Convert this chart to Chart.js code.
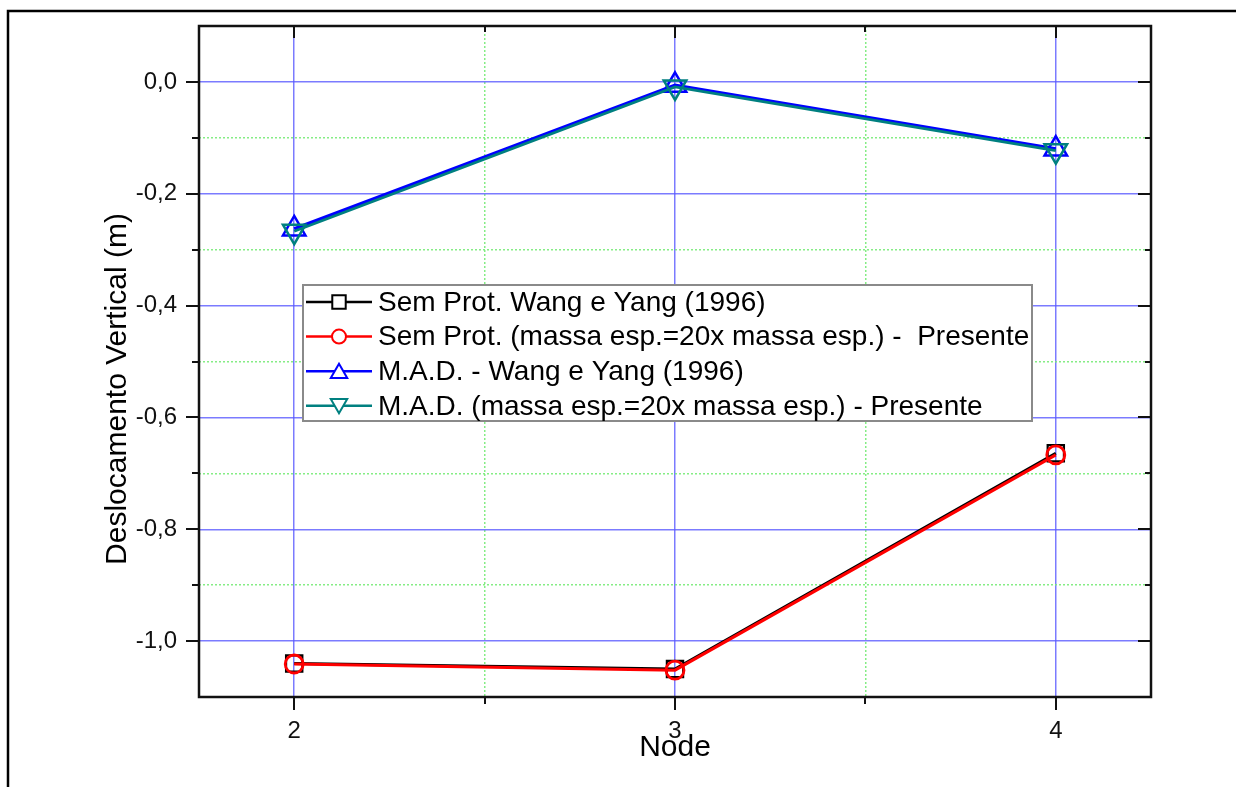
<!DOCTYPE html>
<html>
<head>
<meta charset="utf-8">
<script src="https://cdn.jsdelivr.net/npm/chart.js@4.4.1/dist/chart.umd.min.js"></script>
<style>
  html, body { margin: 0; padding: 0; background: #ffffff; }
  #wrap { position: relative; width: 1236px; height: 787px; overflow: hidden; }
  canvas { display: block; }
</style>
</head>
<body>
<div id="wrap"><canvas id="chart" width="1236" height="787"></canvas></div>
<script>
// Node positions along the structure
const nodes = [2, 3, 4];

// Vertical displacement (m) at each node
const semProtWangYang = [-1.040, -1.050, -0.664];
const semProtPresente = [-1.041, -1.052, -0.667];
const madWangYang     = [-0.263, -0.006, -0.120];
const madPresente     = [-0.267, -0.009, -0.123];

const seriesLabels = [
  'Sem Prot. Wang e Yang (1996)',
  'Sem Prot. (massa esp.=20x massa esp.) -  Presente',
  'M.A.D. - Wang e Yang (1996)',
  'M.A.D. (massa esp.=20x massa esp.) - Presente'
];

// Axis ticks: every value gets a grid line, labelled ones are the major ticks
const xTickValues = [2, 2.5, 3, 3.5, 4];
const xMajorValues = [2, 3, 4];
const xMajorLabels = ['2', '3', '4'];
const yTickValues = [-1.0, -0.9, -0.8, -0.7, -0.6, -0.5, -0.4, -0.3, -0.2, -0.1, 0.0];
const yMajorValues = [-1.0, -0.8, -0.6, -0.4, -0.2, 0.0];
const yMajorLabels = ['-1,0', '-0,8', '-0,6', '-0,4', '-0,2', '0,0'];

const X_MIN = 1.75, X_MAX = 4.25, Y_MIN = -1.1, Y_MAX = 0.1;

function majorIndex(list, v) {
  return list.findIndex(m => Math.abs(m - v) < 1e-6);
}

const MAJOR_GRID = 'rgba(90,90,255,0.8)';
const MINOR_GRID = 'rgba(120,235,120,0.9)';
const FONT = '"Liberation Sans", Arial, sans-serif';

function points(values) {
  return nodes.map((x, i) => ({ x: x, y: values[i] }));
}

function drawMarker(ctx, style, rotation, x, y, r) {
  ctx.beginPath();
  if (style === 'rect') {
    const s = r * Math.SQRT1_2;
    ctx.rect(x - s, y - s, 2 * s, 2 * s);
  } else if (style === 'circle') {
    ctx.arc(x, y, r, 0, Math.PI * 2);
  } else {
    let a = (rotation || 0) * Math.PI / 180;
    for (let k = 0; k < 3; k++) {
      const px = x + Math.sin(a) * r, py = y - Math.cos(a) * r;
      if (k === 0) ctx.moveTo(px, py); else ctx.lineTo(px, py);
      a += 2 * Math.PI / 3;
    }
    ctx.closePath();
  }
  ctx.fillStyle = '#ffffff';
  ctx.fill();
  ctx.stroke();
}

// White page, outer frame, axis box with Origin-style ticks
const framePlugin = {
  id: 'frame',
  beforeDraw(chart) {
    const ctx = chart.ctx;
    ctx.save();
    ctx.fillStyle = '#ffffff';
    ctx.fillRect(0, 0, chart.width, chart.height);
    ctx.restore();
  },
  afterDatasetsDraw(chart) {
    const ctx = chart.ctx;
    const a = chart.chartArea;
    const xs = chart.scales.x, ys = chart.scales.y;
    ctx.save();
    ctx.strokeStyle = '#111111';
    ctx.lineWidth = 2;
    xTickValues.forEach(v => {
      const px = Math.round(xs.getPixelForValue(v));
      const major = majorIndex(xMajorValues, v) >= 0;
      const outL = major ? 13 : 7, inL = major ? 12 : 6;
      ctx.beginPath();
      ctx.moveTo(px, a.bottom); ctx.lineTo(px, a.bottom + outL);
      ctx.moveTo(px, a.top); ctx.lineTo(px, a.top + inL);
      ctx.stroke();
    });
    yTickValues.forEach(v => {
      const py = Math.round(ys.getPixelForValue(v));
      const major = majorIndex(yMajorValues, v) >= 0;
      const outL = major ? 13 : 7, inL = major ? 13 : 6;
      ctx.beginPath();
      ctx.moveTo(a.left, py); ctx.lineTo(a.left - outL, py);
      ctx.moveTo(a.right, py); ctx.lineTo(a.right - inL, py);
      ctx.stroke();
    });
    ctx.lineWidth = 2.5;
    ctx.strokeRect(a.left, a.top, a.right - a.left, a.bottom - a.top);
    ctx.restore();
  },
  afterDraw(chart) {
    const ctx = chart.ctx;
    ctx.save();
    // outer page frame
    ctx.strokeStyle = '#000000';
    ctx.lineWidth = 2.5;
    ctx.beginPath();
    ctx.moveTo(8, chart.height + 5);
    ctx.lineTo(8, 11);
    ctx.lineTo(chart.width + 5, 11);
    ctx.stroke();
    // vertical axis title
    ctx.fillStyle = '#000000';
    ctx.font = '30px ' + FONT;
    ctx.textAlign = 'center';
    ctx.textBaseline = 'middle';
    ctx.translate(118, 389);
    ctx.rotate(-Math.PI / 2);
    ctx.fillText('Deslocamento Vertical (m)', 0, 0);
    ctx.restore();
  }
};

// Boxed legend: line sample with marker in the middle, then the label
const legendPlugin = {
  id: 'boxLegend',
  afterDraw(chart) {
    const ctx = chart.ctx;
    const box = { left: 303, top: 285, right: 1032, bottom: 421 };
    const firstRow = 302, rowStep = 34.6, lineStart = 306, lineEnd = 372, textX = 378;
    ctx.save();
    ctx.fillStyle = '#ffffff';
    ctx.fillRect(box.left, box.top, box.right - box.left, box.bottom - box.top);
    ctx.strokeStyle = '#8a8a8a';
    ctx.lineWidth = 2;
    ctx.strokeRect(box.left, box.top, box.right - box.left, box.bottom - box.top);
    chart.data.datasets.forEach((ds, i) => {
      const y = firstRow + i * rowStep;
      ctx.strokeStyle = ds.borderColor;
      ctx.lineWidth = 2.5;
      ctx.beginPath();
      ctx.moveTo(lineStart, y); ctx.lineTo(lineEnd, y);
      ctx.stroke();
      ctx.lineWidth = 2;
      const r = ds.pointStyle === 'rect' ? 9.5 : (ds.pointStyle === 'circle' ? 7 : 9.5);
      const cy = ds.pointStyle === 'triangle' ? y + (ds.pointRotation ? -2 : 2) : y;
      drawMarker(ctx, ds.pointStyle, ds.pointRotation, (lineStart + lineEnd) / 2, cy, r);
      ctx.fillStyle = '#000000';
      ctx.font = '28px ' + FONT;
      ctx.textAlign = 'left';
      ctx.textBaseline = 'middle';
      ctx.fillText(ds.label, textX, y + 1);
    });
    ctx.restore();
  }
};

const datasets = [
  {
    label: seriesLabels[0], data: points(semProtWangYang),
    borderColor: '#000000', borderWidth: 3,
    pointStyle: 'rect', pointRadius: 11.5, pointBorderWidth: 2.2, pointRotation: 0,
    order: 2
  },
  {
    label: seriesLabels[1], data: points(semProtPresente),
    borderColor: '#ff0000', borderWidth: 3,
    pointStyle: 'circle', pointRadius: 9, pointBorderWidth: 2.8, pointRotation: 0,
    order: 1
  },
  {
    label: seriesLabels[2], data: points(madWangYang),
    borderColor: '#0000ff', borderWidth: 3.5,
    pointStyle: 'triangle', pointRadius: 13, pointBorderWidth: 2.5, pointRotation: 0,
    order: 2
  },
  {
    label: seriesLabels[3], data: points(madPresente),
    borderColor: '#008080', borderWidth: 2.8,
    pointStyle: 'triangle', pointRadius: 13, pointBorderWidth: 2.5, pointRotation: 180,
    order: 1
  }
].map(ds => Object.assign({
  showLine: true,
  tension: 0,
  fill: false,
  backgroundColor: 'rgba(0,0,0,0)',
  pointBackgroundColor: 'rgba(0,0,0,0)',
  pointBorderColor: ds.borderColor,
  pointHoverRadius: ds.pointRadius
}, ds));

new Chart(document.getElementById('chart'), {
  type: 'scatter',
  data: { datasets: datasets },
  plugins: [framePlugin, legendPlugin],
  options: {
    responsive: false,
    animation: false,
    devicePixelRatio: 1,
    layout: { padding: { left: 0, top: 26, right: 85, bottom: 0 } },
    plugins: { legend: { display: false }, tooltip: { enabled: false } },
    scales: {
      x: {
        type: 'linear', position: 'bottom', min: X_MIN, max: X_MAX,
        afterBuildTicks(scale) { scale.ticks = xTickValues.map(v => ({ value: v })); },
        afterFit(scale) {
          scale.height = 90;
          scale.paddingLeft = 0;
          scale.paddingRight = 0;
        },
        ticks: {
          autoSkip: false, maxRotation: 0, padding: 20, color: '#111111',
          font: { family: FONT, size: 24 },
          callback(value) {
            const k = majorIndex(xMajorValues, value);
            return k >= 0 ? xMajorLabels[k] : '';
          }
        },
        grid: {
          drawTicks: false,
          lineWidth: 1.5,
          color(ctx) {
            return ctx.tick && majorIndex(xMajorValues, ctx.tick.value) >= 0 ? MAJOR_GRID : MINOR_GRID;
          }
        },
        border: {
          display: false,
          dash(ctx) {
            return ctx.tick && majorIndex(xMajorValues, ctx.tick.value) >= 0 ? [] : [2, 2];
          }
        },
        title: {
          display: true, text: 'Node', color: '#000000',
          font: { family: FONT, size: 30 },
          padding: { top: 0, bottom: 21 }
        }
      },
      y: {
        type: 'linear', position: 'left', min: Y_MIN, max: Y_MAX,
        afterBuildTicks(scale) { scale.ticks = yTickValues.map(v => ({ value: v })); },
        afterFit(scale) {
          scale.width = 199;
          scale.paddingTop = 0;
          scale.paddingBottom = 0;
        },
        ticks: {
          autoSkip: false, padding: 22, color: '#111111',
          font: { family: FONT, size: 24 },
          callback(value) {
            const k = majorIndex(yMajorValues, value);
            return k >= 0 ? yMajorLabels[k] : '';
          }
        },
        grid: {
          drawTicks: false,
          lineWidth: 1.5,
          color(ctx) {
            return ctx.tick && majorIndex(yMajorValues, ctx.tick.value) >= 0 ? MAJOR_GRID : MINOR_GRID;
          }
        },
        border: {
          display: false,
          dash(ctx) {
            return ctx.tick && majorIndex(yMajorValues, ctx.tick.value) >= 0 ? [] : [2, 2];
          }
        }
      }
    }
  }
});
</script>
</body>
</html>
